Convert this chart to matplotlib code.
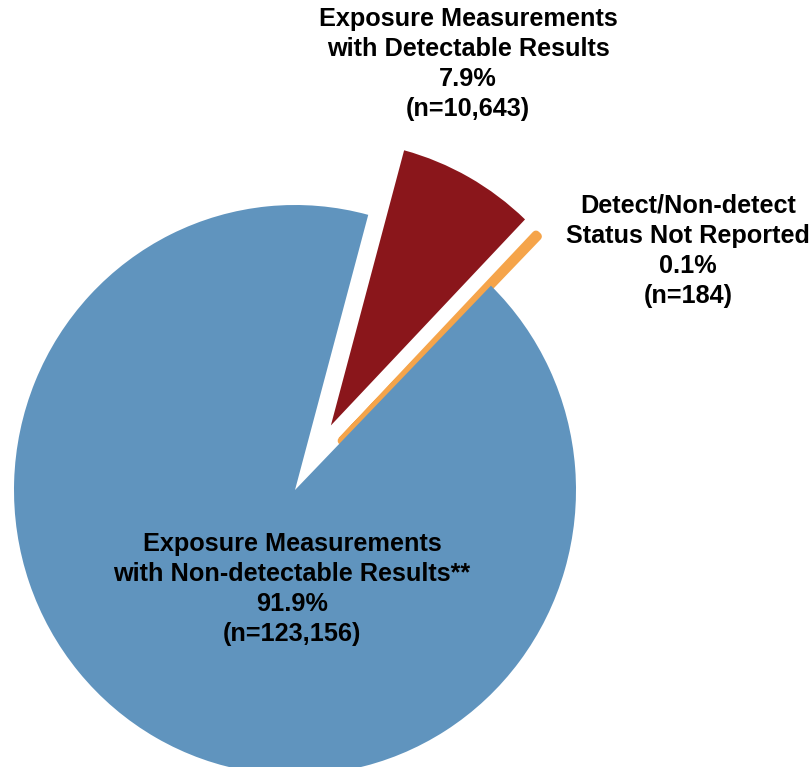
import matplotlib
matplotlib.use("Agg")
import matplotlib.pyplot as plt

# slices, counter-clockwise starting from the small orange one
labels = ["Detect/Non-detect\nStatus Not Reported",
          "Exposure Measurements\nwith Detectable Results",
          "Exposure Measurements\nwith Non-detectable Results**"]
counts = [184, 10643, 123156]
pcts = ["0.1%", "7.9%", "91.9%"]
ns = ["(n=184)", "(n=10,643)", "(n=123,156)"]
colors = ["#f5a44a", "#8a161b", "#6094be"]

plt.rcParams["font.family"] = ["Liberation Sans", "DejaVu Sans"]

fig = plt.figure(figsize=(8.12, 7.67), dpi=100)
ax = fig.add_axes([0, 0, 1, 1])

wedges, _ = ax.pie(counts, colors=colors, startangle=45.8, counterclock=True,
                   explode=[0.24, 0.26, 0], radius=1)

# orange slice is tiny, thicken it so it shows like the original
wedges[0].set_edgecolor(colors[0])
wedges[0].set_linewidth(6)
wedges[0].set_joinstyle("round")

# pie is slightly taller than wide in the reference
ax.set_aspect("auto")
ax.set_xlim(-295 / 281, (812 - 295) / 281)
ax.set_ylim(-(767 - 490) / 285, 490 / 285)
ax.axis("off")

# label text (pixel centres from the top-left corner)
pos = [(688, 251), (468, 64), (292, 589)]
for i in range(3):
    x, y = pos[i]
    fig.text(x / 812, 1 - y / 767, labels[i] + "\n" + pcts[i] + "\n" + ns[i],
             ha="center", va="center", fontsize=18.2, fontweight="bold",
             linespacing=1.32, color="black")

fig.savefig("out.png", dpi=100)
